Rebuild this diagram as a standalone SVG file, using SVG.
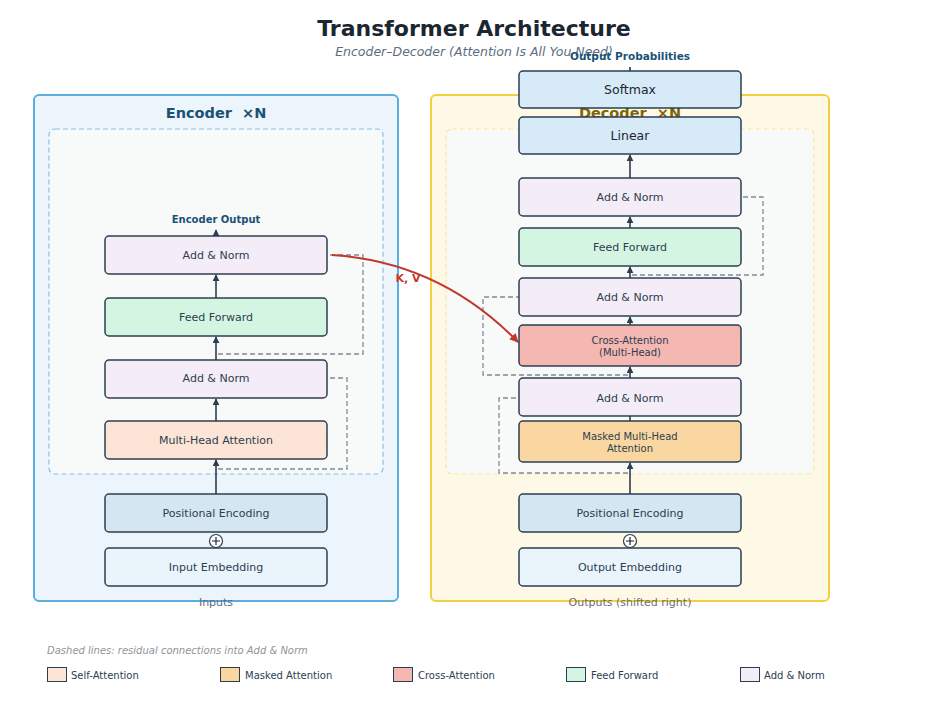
<svg xmlns="http://www.w3.org/2000/svg" width="947" height="716" viewBox="0 0 947 716">
<defs>
<marker id="ah" viewBox="0 0 10 10" refX="9" refY="5" markerWidth="7" markerHeight="7" markerUnits="userSpaceOnUse" orient="auto"><path d="M0,0 L10,5 L0,10 z" fill="#2c3e50"/></marker>
<marker id="ahr" viewBox="0 0 10 10" refX="9" refY="5" markerWidth="9" markerHeight="9" markerUnits="userSpaceOnUse" orient="auto"><path d="M0,0 L10,5 L0,10 z" fill="#c0392b"/></marker>
<style>
text{font-family:"DejaVu Sans","Liberation Sans",sans-serif;}
.n{stroke:#2c3e50;stroke-width:1.5;}
.t{font-size:11px;fill:#2c3e50;text-anchor:middle;}
.tb{font-size:12.5px;fill:#1b2631;text-anchor:middle;}
.ts{font-size:10px;fill:#2c3e50;text-anchor:middle;}
.ar{stroke:#2c3e50;stroke-width:1.6;fill:none;marker-end:url(#ah);}
.res{stroke:#808b96;stroke-width:1.3;stroke-dasharray:5,3;fill:none;}
.an{fill:#f4ecf7}.ff{fill:#d5f5e3}.mha{fill:#fce4d6}.pe{fill:#d4e6f1}.emb{fill:#eaf4fb}.lin{fill:#d6eaf8}.cr{fill:#f5b7b1}.mk{fill:#fad7a0}
.leg{font-size:10px;fill:#2c3e50;}
</style>
</defs>
<rect width="947" height="716" fill="#ffffff"/>
<text x="474" y="36" font-size="22" font-weight="bold" fill="#1b2631" text-anchor="middle">Transformer Architecture</text>
<text x="474" y="56" font-size="12.5" font-style="italic" fill="#5d6d7e" text-anchor="middle">Encoder–Decoder (Attention Is All You Need)</text>

<g id="encoder">
<rect x="34" y="95" width="364" height="506" rx="5" fill="#ebf5fb" stroke="#5dade2" stroke-width="2"/>
<text x="216" y="118" font-size="14.5" font-weight="bold" fill="#1a5276" text-anchor="middle" xml:space="preserve">Encoder  ×N</text>
<rect x="49" y="129" width="334" height="345" rx="6" fill="#f8f9f9" stroke="#85c1e9" stroke-width="1.2" stroke-dasharray="5,3"/>
<text x="216" y="606" font-size="11" fill="#5d6d7e" text-anchor="middle">Inputs</text>
</g>

<g id="decoder">
<rect x="431" y="95" width="398" height="506" rx="5" fill="#fef9e7" stroke="#f4d03f" stroke-width="2"/>
<text x="630" y="118" font-size="14.5" font-weight="bold" fill="#7d6608" text-anchor="middle" xml:space="preserve">Decoder  ×N</text>
<rect x="446" y="129" width="368" height="345" rx="6" fill="#f8f9f9" stroke="#f9e79f" stroke-width="1.2" stroke-dasharray="5,3"/>
<text x="630" y="606" font-size="11" fill="#6e6e6e" text-anchor="middle">Outputs (shifted right)</text>
</g>

<g id="connectors">
<path class="res" d="M218,469 H347 V378 H329"/>
<path class="res" d="M218,354 H363 V255 H329"/>
<path class="res" d="M628,473 H499 V398 H519"/>
<path class="res" d="M628,375 H483 V297 H519"/>
<path class="res" d="M632,275 H763 V197 H741"/>
<path class="ar" d="M216,494 V460"/>
<path class="ar" d="M216,421 V399"/>
<path class="ar" d="M216,360 V337"/>
<path class="ar" d="M216,298 V275"/>
<path class="ar" d="M216,236 V230"/>
<path class="ar" d="M630,494 V463"/>
<path d="M630,421 V416" stroke="#2c3e50" stroke-width="1.6"/>
<path class="ar" d="M630,378 V367"/>
<path class="ar" d="M630,325 V317"/>
<path class="ar" d="M630,278 V267"/>
<path class="ar" d="M630,228 V217"/>
<path class="ar" d="M630,178 V155"/>
<path d="M630,71 V67" stroke="#2c3e50" stroke-width="1.6"/>
<path d="M332,255 Q440,262 518,342" stroke="#c0392b" stroke-width="2" fill="none" marker-end="url(#ahr)"/>
<text x="408" y="282" font-size="11" font-weight="bold" fill="#c0392b" text-anchor="middle">K, V</text>
</g>

<g id="enc-output-label"><text x="216" y="223" font-size="10" font-weight="bold" fill="#1a5276" text-anchor="middle">Encoder Output</text></g>
<g id="enc-addnorm2"><rect class="n an" x="105" y="236" width="222" height="38" rx="4"/><text class="t" x="216" y="259">Add &amp; Norm</text></g>
<g id="enc-ff"><rect class="n ff" x="105" y="298" width="222" height="38" rx="4"/><text class="t" x="216" y="321">Feed Forward</text></g>
<g id="enc-addnorm1"><rect class="n an" x="105" y="360" width="222" height="38" rx="4"/><text class="t" x="216" y="382">Add &amp; Norm</text></g>
<g id="enc-mha"><rect class="n mha" x="105" y="421" width="222" height="38" rx="4"/><text class="t" x="216" y="444">Multi-Head Attention</text></g>
<g id="enc-pe"><rect class="n pe" x="105" y="494" width="222" height="38" rx="4"/><text class="t" x="216" y="517">Positional Encoding</text></g>
<g id="enc-plus"><circle cx="216" cy="541" r="6.5" fill="#ffffff" stroke="#2c3e50" stroke-width="1.2"/><path d="M212,541 H220 M216,537 V545" stroke="#1b2631" stroke-width="1.2"/></g>
<g id="enc-emb"><rect class="n emb" x="105" y="548" width="222" height="38" rx="4"/><text class="t" x="216" y="571">Input Embedding</text></g>

<g id="dec-output-label"><text x="630" y="60" font-size="10.5" font-weight="bold" fill="#1a5276" text-anchor="middle">Output Probabilities</text></g>
<g id="dec-softmax"><rect class="n lin" x="519" y="71" width="222" height="37" rx="4"/><text class="tb" x="630" y="94">Softmax</text></g>
<g id="dec-linear"><rect class="n lin" x="519" y="117" width="222" height="37" rx="4"/><text class="tb" x="630" y="140">Linear</text></g>
<g id="dec-addnorm3"><rect class="n an" x="519" y="178" width="222" height="38" rx="4"/><text class="t" x="630" y="201">Add &amp; Norm</text></g>
<g id="dec-ff"><rect class="n ff" x="519" y="228" width="222" height="38" rx="4"/><text class="t" x="630" y="251">Feed Forward</text></g>
<g id="dec-addnorm2"><rect class="n an" x="519" y="278" width="222" height="38" rx="4"/><text class="t" x="630" y="301">Add &amp; Norm</text></g>
<g id="dec-cross"><rect class="n cr" x="519" y="325" width="222" height="41" rx="4"/><text class="ts" x="630" y="344">Cross-Attention</text><text class="ts" x="630" y="356">(Multi-Head)</text></g>
<g id="dec-addnorm1"><rect class="n an" x="519" y="378" width="222" height="38" rx="4"/><text class="t" x="630" y="402">Add &amp; Norm</text></g>
<g id="dec-masked"><rect class="n mk" x="519" y="421" width="222" height="41" rx="4"/><text class="ts" x="630" y="440">Masked Multi-Head</text><text class="ts" x="630" y="452">Attention</text></g>
<g id="dec-pe"><rect class="n pe" x="519" y="494" width="222" height="38" rx="4"/><text class="t" x="630" y="517">Positional Encoding</text></g>
<g id="dec-plus"><circle cx="630" cy="541" r="6.5" fill="#ffffff" stroke="#2c3e50" stroke-width="1.2"/><path d="M626,541 H634 M630,537 V545" stroke="#1b2631" stroke-width="1.2"/></g>
<g id="dec-emb"><rect class="n emb" x="519" y="548" width="222" height="38" rx="4"/><text class="t" x="630" y="571">Output Embedding</text></g>

<g id="legend">
<text x="47" y="654" font-size="10" font-style="italic" fill="#909497">Dashed lines: residual connections into Add &amp; Norm</text>
<rect x="47.5" y="667.5" width="19" height="14" fill="#fce4d6" stroke="#2c3e50" stroke-width="1"/><text class="leg" x="71" y="679">Self-Attention</text>
<rect x="220.5" y="667.5" width="19" height="14" fill="#fad7a0" stroke="#2c3e50" stroke-width="1"/><text class="leg" x="245" y="679">Masked Attention</text>
<rect x="393.5" y="667.5" width="19" height="14" fill="#f5b7b1" stroke="#2c3e50" stroke-width="1"/><text class="leg" x="418" y="679">Cross-Attention</text>
<rect x="566.5" y="667.5" width="19" height="14" fill="#d5f5e3" stroke="#2c3e50" stroke-width="1"/><text class="leg" x="591" y="679">Feed Forward</text>
<rect x="740.5" y="667.5" width="19" height="14" fill="#f4ecf7" stroke="#2c3e50" stroke-width="1"/><text class="leg" x="764" y="679">Add &amp; Norm</text>
</g>
</svg>
